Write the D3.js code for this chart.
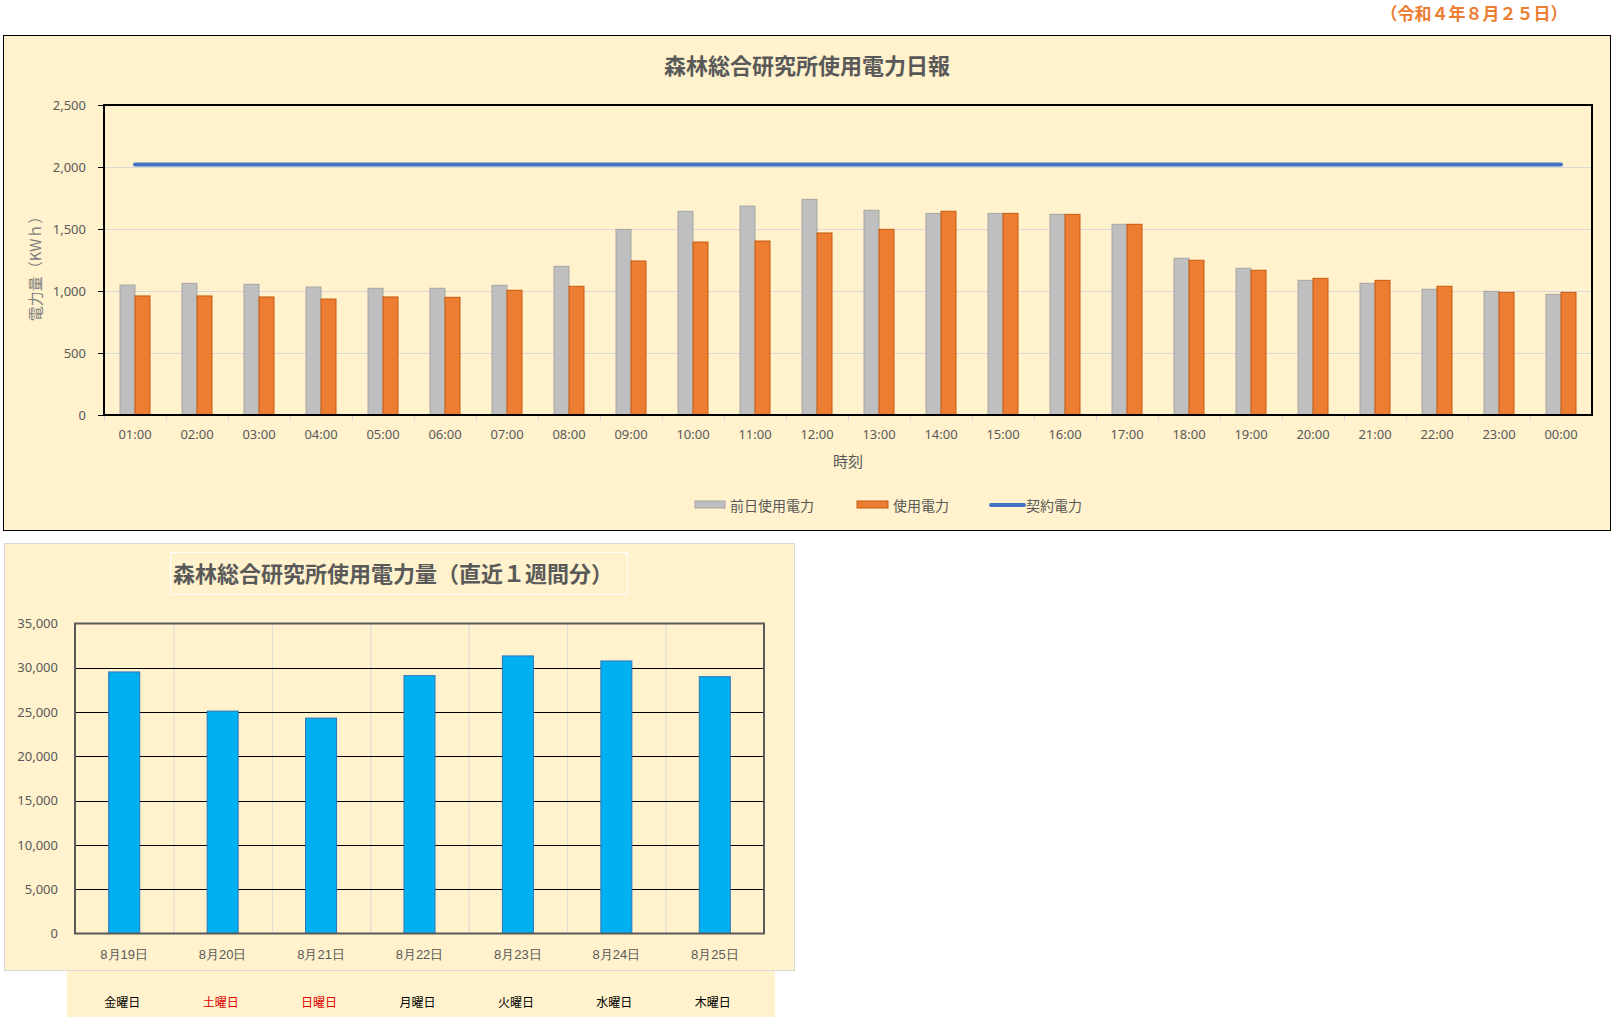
<!DOCTYPE html>
<html><head><meta charset="utf-8">
<script src="https://cdn.jsdelivr.net/npm/d3@7"></script>
<style>
html,body{margin:0;padding:0;background:#fff;}
svg{display:block;font-family:"Noto Sans CJK JP","Noto Sans",sans-serif;}
</style></head>
<body>
<svg id="c" width="1616" height="1022"></svg>
<script>
// ---- Daily chart data ----
const hours = ["01:00","02:00","03:00","04:00","05:00","06:00","07:00","08:00","09:00","10:00","11:00","12:00","13:00","14:00","15:00","16:00","17:00","18:00","19:00","20:00","21:00","22:00","23:00","00:00"];
const prevDayUse = [1048,1062,1054,1032,1022,1022,1046,1199,1497,1643,1685,1739,1651,1626,1626,1618,1538,1264,1183,1086,1062,1014,997,973];
const todayUse   = [960,960,952,935,952,949,1006,1038,1242,1395,1403,1468,1497,1643,1626,1618,1538,1248,1167,1102,1086,1038,989,989];
const contractPower = [2020,2020,2020,2020,2020,2020,2020,2020,2020,2020,2020,2020,2020,2020,2020,2020,2020,2020,2020,2020,2020,2020,2020,2020];
const dailyTicks = [0,500,1000,1500,2000,2500];
const seriesNames = ["前日使用電力","使用電力","契約電力"];

// ---- Weekly chart data ----
const weekDates = ["8月19日","8月20日","8月21日","8月22日","8月23日","8月24日","8月25日"];
const weekValues = [29530,25110,24320,29110,31340,30770,29000];
const weekDays = ["金曜日","土曜日","日曜日","月曜日","火曜日","水曜日","木曜日"];
const weekTicks = [0,5000,10000,15000,20000,25000,30000,35000];

const svg = d3.select("#c");
const fmt = d3.format(",");
const TXT = "#595959";

// date stamp
svg.append("text").attr("x",1474).attr("y",12).attr("text-anchor","middle")
  .attr("dominant-baseline","central").attr("font-size",17).attr("font-weight","bold")
  .attr("fill","#ED7D31").text("（令和４年８月２５日）");

// ===== Top chart panel =====
svg.append("rect").attr("x",3.5).attr("y",35.5).attr("width",1607).attr("height",495)
  .attr("fill","#FFF2CC").attr("stroke","#000").attr("stroke-width",1);
svg.append("text").attr("x",807).attr("y",64).attr("text-anchor","middle")
  .attr("dominant-baseline","central").attr("font-size",22).attr("font-weight","bold")
  .attr("fill",TXT).text("森林総合研究所使用電力日報");

const P = {l:104,r:1592,t:105,b:415};
const x0 = d3.scaleBand().domain(hours).range([P.l,P.r]).padding(0);
const y0 = d3.scaleLinear().domain([0,2500]).range([P.b,P.t]);
const bw = x0.bandwidth();
const x1 = d3.scaleBand().domain([0,1]).range([bw/2-15, bw/2+15]).padding(0);

// gridlines
svg.append("g").selectAll("line").data(dailyTicks.filter(d=>d>0&&d<2500)).join("line")
  .attr("x1",P.l).attr("x2",P.r).attr("y1",d=>y0(d)+0.5).attr("y2",d=>y0(d)+0.5)
  .attr("stroke","#D9D9D9").attr("stroke-width",1);

// y axis
const yAx = svg.append("g").attr("transform",`translate(${P.l},0)`)
  .call(d3.axisLeft(y0).tickValues(dailyTicks).tickFormat(fmt).tickSize(6).tickPadding(12));
yAx.select(".domain").remove();
yAx.selectAll("line").attr("stroke","#000");
yAx.selectAll("text").attr("font-size",13).attr("fill",TXT).attr("font-family","'Noto Sans','Noto Sans CJK JP',sans-serif");

// x axis
const xAx = svg.append("g").attr("transform",`translate(0,${P.b})`)
  .call(d3.axisBottom(x0).tickSize(0).tickPadding(15));
xAx.select(".domain").remove();
xAx.selectAll("text").attr("font-size",13).attr("fill",TXT).attr("font-family","'Noto Sans','Noto Sans CJK JP',sans-serif");
svg.append("g").selectAll("line").data(hours).join("line")
  .attr("x1",d=>x0(d)+0.5).attr("x2",d=>x0(d)+0.5).attr("y1",P.b).attr("y2",P.b+6)
  .attr("stroke","#D9D9D9");

// bars
const barG = svg.append("g");
barG.selectAll("rect.prev").data(hours).join("rect").attr("class","prev")
  .attr("x",(d)=>x0(d)+x1(0)).attr("width",x1.bandwidth())
  .attr("y",(d,i)=>y0(prevDayUse[i])).attr("height",(d,i)=>y0(0)-y0(prevDayUse[i]))
  .attr("fill","#BFBFBF").attr("stroke","#A5A5A5").attr("stroke-width",1);
barG.selectAll("rect.cur").data(hours).join("rect").attr("class","cur")
  .attr("x",(d)=>x0(d)+x1(1)).attr("width",x1.bandwidth())
  .attr("y",(d,i)=>y0(todayUse[i])).attr("height",(d,i)=>y0(0)-y0(todayUse[i]))
  .attr("fill","#ED7D31").attr("stroke","#C55A11").attr("stroke-width",1);

// contract line
svg.append("path").datum(contractPower)
  .attr("d",d3.line().x((d,i)=>x0(hours[i])+bw/2).y(d=>y0(d)))
  .attr("fill","none").attr("stroke","#4472C4").attr("stroke-width",4).attr("stroke-linecap","round");

// frame
svg.append("rect").attr("x",P.l).attr("y",P.t).attr("width",P.r-P.l).attr("height",P.b-P.t)
  .attr("fill","none").attr("stroke","#000").attr("stroke-width",2);

// axis titles
svg.append("text").attr("transform",`translate(34,${(P.t+P.b)/2+5}) rotate(-90)`)
  .attr("text-anchor","middle").attr("dominant-baseline","central").attr("font-size",15)
  .attr("fill","#7F7F7F").text("電力量（KWｈ）");
svg.append("text").attr("x",848).attr("y",460).attr("text-anchor","middle")
  .attr("dominant-baseline","central").attr("font-size",15).attr("fill",TXT).text("時刻");

// legend
const lg = svg.append("g").attr("font-size",14).attr("fill",TXT);
const legX = [695,857,991];
const LY = 505;
lg.append("rect").attr("x",legX[0]).attr("y",LY-4).attr("width",30).attr("height",7).attr("fill","#BFBFBF").attr("stroke","#A5A5A5");
lg.append("rect").attr("x",legX[1]).attr("y",LY-4).attr("width",31).attr("height",7).attr("fill","#ED7D31").attr("stroke","#C55A11");
lg.append("line").attr("x1",legX[2]).attr("x2",legX[2]+33).attr("y1",LY).attr("y2",LY).attr("stroke","#4472C4").attr("stroke-width",4).attr("stroke-linecap","round");
[730,893,1026].forEach((x,i)=>{
  lg.append("text").attr("x",x).attr("y",LY).attr("dominant-baseline","central").attr("fill",TXT).text(seriesNames[i]);
});

// ===== Bottom chart =====
svg.append("rect").attr("x",4.5).attr("y",543.5).attr("width",790).attr("height",427)
  .attr("fill","#FFF2CC").attr("stroke","#D9D9D9").attr("stroke-width",1);
svg.append("rect").attr("x",67).attr("y",971).attr("width",708).attr("height",46).attr("fill","#FFF2CC");
svg.append("rect").attr("x",170.5).attr("y",552.5).attr("width",457).attr("height",42)
  .attr("fill","none").attr("stroke","#FFFFFF").attr("stroke-width",1);
svg.append("text").attr("x",393).attr("y",572).attr("text-anchor","middle")
  .attr("dominant-baseline","central").attr("font-size",22).attr("font-weight","bold")
  .attr("fill",TXT).text("森林総合研究所使用電力量（直近１週間分）");

const Q = {l:75,r:764,t:623.5,b:933.5};
const xw = d3.scaleBand().domain(weekDates).range([Q.l,Q.r]).padding(0);
const yw = d3.scaleLinear().domain([0,35000]).range([Q.b,Q.t]);
const step = xw.bandwidth();
const barW = step*0.315;

// vertical gridlines
svg.append("g").selectAll("line").data(weekDates.slice(1)).join("line")
  .attr("x1",d=>xw(d)+0.5).attr("x2",d=>xw(d)+0.5).attr("y1",Q.t).attr("y2",Q.b)
  .attr("stroke","#D9D9D9");
// horizontal gridlines
svg.append("g").selectAll("line").data(weekTicks.filter(d=>d>0&&d<35000)).join("line")
  .attr("x1",Q.l).attr("x2",Q.r).attr("y1",d=>Math.round(yw(d))+0.5).attr("y2",d=>Math.round(yw(d))+0.5)
  .attr("stroke","#000").attr("stroke-width",1);

// bars
svg.append("g").selectAll("rect").data(weekDates).join("rect")
  .attr("x",d=>xw(d)+step/2-barW/2).attr("width",barW)
  .attr("y",(d,i)=>yw(weekValues[i])).attr("height",(d,i)=>yw(0)-yw(weekValues[i]))
  .attr("fill","#00B0F0").attr("stroke","#2E75B6").attr("stroke-width",1);

// frame
svg.append("rect").attr("x",Q.l).attr("y",Q.t).attr("width",Q.r-Q.l).attr("height",Q.b-Q.t)
  .attr("fill","none").attr("stroke","#595959").attr("stroke-width",2);

// y axis labels
const wy = svg.append("g").attr("transform",`translate(${Q.l},0)`)
  .call(d3.axisLeft(yw).tickValues(weekTicks).tickFormat(fmt).tickSize(0).tickPadding(17));
wy.select(".domain").remove();
wy.selectAll("text").attr("font-size",13).attr("fill",TXT).attr("font-family","'Noto Sans','Noto Sans CJK JP',sans-serif");

// x axis labels
const wx = svg.append("g").attr("transform",`translate(0,${Q.b})`)
  .call(d3.axisBottom(xw).tickSize(0).tickPadding(16));
wx.select(".domain").remove();
wx.selectAll("text").attr("font-size",13).attr("fill",TXT);

// weekday labels
svg.append("g").selectAll("text").data(weekDays).join("text")
  .attr("x",(d,i)=>xw(weekDates[i])+step/2-2).attr("y",1001).attr("text-anchor","middle")
  .attr("dominant-baseline","central").attr("font-size",12)
  .attr("fill",d=>(d==="土曜日"||d==="日曜日")?"#E00000":"#000")
  .text(d=>d);
</script>
</body></html>
